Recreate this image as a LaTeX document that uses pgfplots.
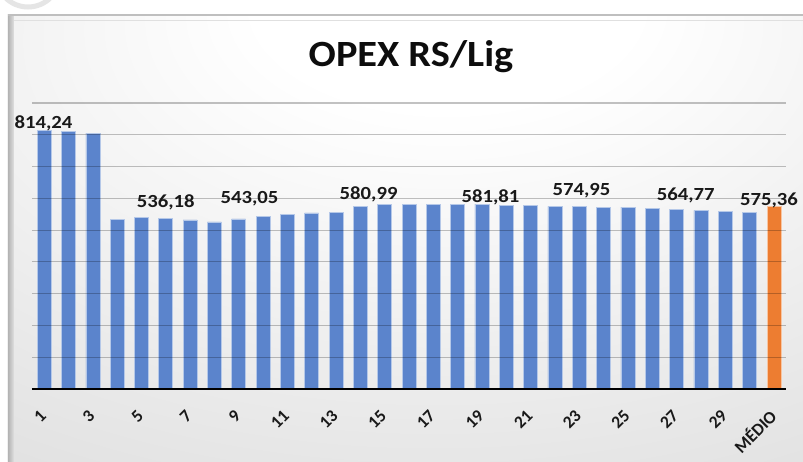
\documentclass[border=0pt]{standalone}
\usepackage{pgfplots}
\pgfplotsset{compat=1.18}
\usepackage{fontspec}
\setmainfont{Carlito}
\usepackage{graphicx}
\definecolor{barblue}{RGB}{91,132,204}
\definecolor{barorange}{RGB}{237,125,49}
\definecolor{baseline}{RGB}{80,80,80}
\pgfdeclareradialshading{bgshade}{\pgfpoint{3bp}{30bp}}{color(0bp)=(white); color(12bp)=(white); color(50bp)=(black!12); color(100bp)=(black!16)}
\begin{document}
\begin{tikzpicture}
% axis box lower-left is at (0,0); picture spans (-32pt,-72pt) to (771pt,389pt)
\path[use as bounding box] (-32pt,-72pt) rectangle (771pt,389pt);
\fill[white] (-32pt,-72pt) rectangle (771pt,389pt);
\draw[black!10, line width=5pt] (-4pt,414pt) circle (32pt);
\shade[shading=bgshade] (-24pt,-72pt) rectangle (771pt,374pt);
\shade[left color=black!30, right color=black!12] (-24pt,-72pt) rectangle (-18pt,374pt);
\draw[black!25, line width=1.2pt] (-24pt,374pt) -- (771pt,374pt);
\draw[black!12, line width=1pt] (-18pt,368pt) -- (771pt,368pt);
\node[font=\bfseries\fontsize{37}{40}\selectfont, anchor=base, text=black!95] at (379pt,322pt) {\scalebox{1.09}[1]{OPEX RS/Lig}};
\begin{axis}[
  anchor=south west, at={(0pt,0pt)},
  scale only axis, width=754pt, height=286pt,
  xmin=0.5, xmax=31.5, ymin=0, ymax=900,
  axis line style={draw=none},
  ytick={100,200,...,900}, yticklabels={},
  ymajorgrids=true,
  major grid style={black, opacity=0.24, line width=1.2pt},
  extra y ticks={0}, extra y tick labels={},
  extra y tick style={grid=major, major grid style={baseline, opacity=1, line width=2pt}},
  major tick length=0pt,
  xtick={1,3,...,29,31},
  xticklabels={1,3,5,7,9,11,13,15,17,19,21,23,25,27,29,MÉDIO},
  xticklabel style={yshift=-24pt, xshift=-1pt, rotate=45, anchor=east, inner sep=0pt,
    font=\bfseries\fontsize{17.5}{19}\selectfont, text=black!90},
  /pgf/number format/assume math mode=true,
  axis on top=true,
  clip=false,
  ybar, bar width=14pt, bar shift=0pt,
]
\addplot[fill=barblue, draw=white!55!barblue, line width=0.6pt] coordinates {
(1,814.24) (2,811) (3,805) (4,534) (5,540) (6,536.18) (7,532) (8,526) (9,535) (10,543.05)
(11,550) (12,554) (13,557) (14,575) (15,580.99) (16,582) (17,582) (18,582) (19,581.81) (20,579)
(21,577) (22,575) (23,574.95) (24,572) (25,572) (26,568) (27,564.77) (28,562) (29,559) (30,556)
};
\addplot[fill=barorange, draw=white!55!barorange, line width=0.6pt] coordinates {(31,575.36)};
\tikzset{lbl/.style={font=\bfseries\fontsize{18.5}{20}\selectfont, anchor=base, text=black!90, inner sep=0pt}}
\node[lbl] at (axis cs:0.97,821.3) {\scalebox{1.12}[1]{814,24}};
\node[lbl] at (axis cs:6.0,572.7) {\scalebox{1.12}[1]{536,18}};
\node[lbl] at (axis cs:9.44,585.3) {\scalebox{1.12}[1]{543,05}};
\node[lbl] at (axis cs:14.34,597.9) {\scalebox{1.12}[1]{580,99}};
\node[lbl] at (axis cs:19.35,588.4) {\scalebox{1.12}[1]{581,81}};
\node[lbl] at (axis cs:23.09,608.2) {\scalebox{1.12}[1]{574,95}};
\node[lbl] at (axis cs:27.38,592.5) {\scalebox{1.12}[1]{564,77}};
\node[lbl] at (axis cs:30.8,576.8) {\scalebox{1.12}[1]{575,36}};
\end{axis}
\end{tikzpicture}
\end{document}
